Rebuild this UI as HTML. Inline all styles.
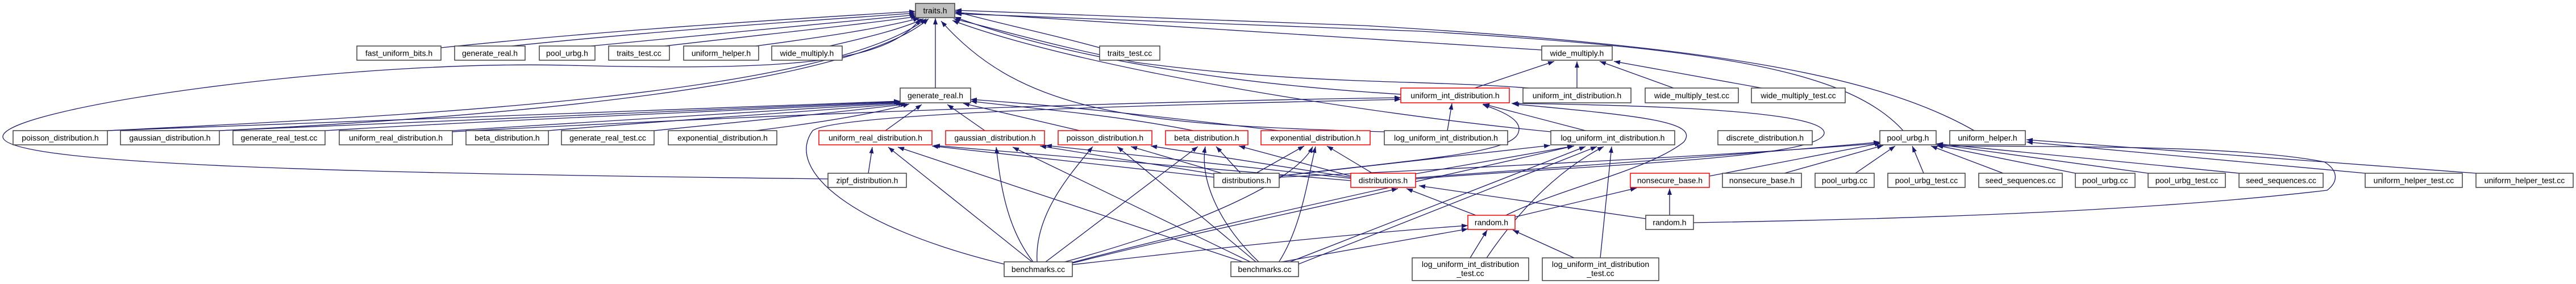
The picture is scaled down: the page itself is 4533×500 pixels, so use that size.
<!DOCTYPE html>
<html><head><meta charset="utf-8"><style>
html,body{margin:0;padding:0;background:#fff;}
svg{display:block;}
text{font-family:"Liberation Sans",sans-serif;font-size:14px;fill:#000;}
.e{fill:none;stroke:#191970;stroke-width:1.3;marker-end:url(#a);}
.n{fill:#fff;stroke:#404040;stroke-width:1.5;}
.r{fill:#fff;stroke:#ff0000;stroke-width:1.5;}
</style></head><body>
<svg width="4533" height="500" viewBox="0 0 4533 500" xmlns="http://www.w3.org/2000/svg">
<defs><marker id="a" markerUnits="userSpaceOnUse" markerWidth="11" markerHeight="8" refX="11" refY="4" orient="auto"><path d="M0,0 L11,4 L0,8 z" fill="#191970"/></marker></defs>
<g>
<!-- traits edges -->
<path class="e" d="M776,84 C1100,50 1450,30 1611,20"/>
<path class="e" d="M900,81 C1200,50 1450,35 1611,23"/>
<path class="e" d="M1040,81 C1300,55 1480,40 1612,26"/>
<path class="e" d="M1170,81 C1350,60 1500,45 1614,29"/>
<path class="e" d="M1330,81 C1450,65 1550,50 1618,32"/>
<path class="e" d="M1460,81 C1530,65 1590,50 1625,33"/>
<path class="e" d="M1457,315 C600,305 0,290 5,240 S600,105 1000,115 S1560,110 1620,33"/>
<path class="e" d="M189,230 C700,205 1450,170 1630,33"/>
<path class="e" d="M386,230 C900,205 1500,150 1634,33"/>
<path class="e" d="M1646,155 L1646,32"/>
<path class="e" d="M1935,84 C1850,60 1750,40 1681,20"/>
<path class="e" d="M2713,88 C2300,60 1900,35 1681,22"/>
<path class="e" d="M2465,166 C2200,150 1900,110 1680,30"/>
<path class="e" d="M2690,155 C2500,140 2300,150 2000,110 C1850,80 1750,50 1678,33"/>
<path class="e" d="M2729,232 C2400,200 1900,120 1676,36"/>
<path class="e" d="M3349,230 C3250,120 3000,85 2500,55 L1681,24"/>
<path class="e" d="M3474,230 C3300,130 3000,80 2400,45 L1681,18"/>
<path class="e" d="M2436,232 C2000,220 1800,200 1656,37"/>
<!-- generate_real edges -->
<path class="e" d="M189,230 C800,205 1300,190 1584,178"/>
<path class="e" d="M386,230 C900,205 1300,190 1584,179"/>
<path class="e" d="M572,230 C900,210 1300,195 1585,180"/>
<path class="e" d="M796,230 C1100,210 1400,195 1588,181"/>
<path class="e" d="M965,230 C1200,210 1450,195 1592,182"/>
<path class="e" d="M1151,230 C1350,210 1500,195 1596,183"/>
<path class="e" d="M1330,230 C1450,215 1540,200 1600,183"/>
<path class="e" d="M1558,230 L1622,184"/>
<path class="e" d="M1733,230 L1667,184"/>
<path class="e" d="M1900,230 L1695,182"/>
<path class="e" d="M2100,230 C1950,200 1800,190 1708,178"/>
<path class="e" d="M2250,230 C2000,200 1850,185 1708,175"/>
<path class="e" d="M796,232 C1300,205 1900,180 2465,172"/>
<!-- uniform_int red -->
<path class="e" d="M2547,230 L2555,182"/>
<path class="e" d="M2790,230 L2610,183"/>
<path class="e" d="M2491,315 C2800,290 3200,280 3210,235 C3215,195 2900,185 2660,182"/>
<path class="e" d="M2251,310 C2500,280 2662,270 2672,233 C2680,210 2640,195 2609,184"/>
<path class="e" d="M2650,379 C2750,330 2900,300 2963,250 C2990,215 2900,205 2662,183"/>
<path class="e" d="M1767,465 C1500,400 1380,300 1430,230 C1470,200 2000,185 2465,175"/>
<!-- wide_multiply -->
<path class="e" d="M2595,155 L2735,108"/>
<path class="e" d="M2775,155 L2775,108"/>
<path class="e" d="M2945,155 L2815,108"/>
<path class="e" d="M3100,155 L2840,108"/>
<!-- log_uniform 2 -->
<path class="e" d="M2251,310 L2728,256"/>
<path class="e" d="M2491,306 L2770,257"/>
<path class="e" d="M1887,462 C2200,380 2500,320 2769,257"/>
<path class="e" d="M2270,461 L2790,258"/>
<path class="e" d="M2285,465 L2810,258"/>
<path class="e" d="M2616,454 C2700,330 2780,280 2822,258"/>
<path class="e" d="M2816,454 L2836,258"/>
<!-- random red -->
<path class="e" d="M2250,462 L2583,403"/>
<path class="e" d="M1887,466 C2200,430 2400,410 2583,397"/>
<path class="e" d="M2587,454 L2617,405"/>
<path class="e" d="M2770,454 L2662,405"/>
<!-- distributions red / nonsecure red -->
<path class="e" d="M2597,379 L2475,332"/>
<path class="e" d="M2896,385 L2497,327"/>
<path class="e" d="M2666,382 L2880,331"/>
<path class="e" d="M2938,379 L2938,332"/>
<path class="e" d="M1888,463 C2100,410 2300,370 2460,332"/>
<!-- exponential red -->
<path class="e" d="M2210,305 L2295,257"/>
<path class="e" d="M1870,462 C2100,400 2280,320 2310,258"/>
<path class="e" d="M2250,462 C2290,400 2300,320 2315,258"/>
<path class="e" d="M2415,305 L2335,257"/>
<!-- beta red -->
<path class="e" d="M1840,461 L2108,258"/>
<path class="e" d="M2215,461 C2150,400 2110,320 2121,258"/>
<path class="e" d="M2183,305 L2140,258"/>
<path class="e" d="M2377,310 L2180,257"/>
<!-- poisson red -->
<path class="e" d="M1825,461 C1820,380 1880,310 1923,258"/>
<path class="e" d="M2210,461 L1966,258"/>
<path class="e" d="M2150,305 L1990,258"/>
<path class="e" d="M2377,312 L2025,257"/>
<!-- gaussian red -->
<path class="e" d="M1818,461 C1770,400 1760,320 1753,259"/>
<path class="e" d="M2200,461 L1782,259"/>
<path class="e" d="M2140,307 L1830,257"/>
<path class="e" d="M2377,314 L1840,256"/>
<!-- uniform_real red -->
<path class="e" d="M1528,305 L1535,259"/>
<path class="e" d="M1816,461 L1563,259"/>
<path class="e" d="M2190,462 L1580,259"/>
<path class="e" d="M2136,312 L1640,257"/>
<path class="e" d="M2377,318 L1643,256"/>
<!-- pool_urbg row3 -->
<path class="e" d="M2491,313 C2800,290 3100,270 3308,250"/>
<path class="e" d="M2251,312 C2700,290 3100,270 3310,252"/>
<path class="e" d="M3008,310 L3310,252"/>
<path class="e" d="M3140,305 L3314,256"/>
<path class="e" d="M3265,305 L3335,257"/>
<path class="e" d="M3385,305 L3365,257"/>
<path class="e" d="M3525,305 L3398,257"/>
<path class="e" d="M3652,305 L3408,256"/>
<path class="e" d="M3780,305 L3408,254"/>
<path class="e" d="M3940,305 L3408,253"/>
<path class="e" d="M2980,392 C3400,385 3800,370 4095,335 C4115,320 4115,300 4090,285 C3950,258 3700,258 3408,257"/>
<!-- uniform_helper row3 -->
<path class="e" d="M4162,305 L3566,250"/>
<path class="e" d="M4357,305 L3566,246"/>
</g>
<g>
<rect x="1611" y="6" width="69" height="25" fill="#bfbfbf" stroke="#404040" stroke-width="1.5"/>
<text x="1645.5" y="23.5" text-anchor="middle">traits.h</text>
</g>
<g>
<rect class="n" x="628" y="81" width="148" height="25"/><text x="702" y="98.5" text-anchor="middle">fast_uniform_bits.h</text>
<rect class="n" x="800" y="81" width="124" height="25"/><text x="862" y="98.5" text-anchor="middle">generate_real.h</text>
<rect class="n" x="949" y="81" width="98" height="25"/><text x="998" y="98.5" text-anchor="middle">pool_urbg.h</text>
<rect class="n" x="1071" y="81" width="107" height="25"/><text x="1124.5" y="98.5" text-anchor="middle">traits_test.cc</text>
<rect class="n" x="1203" y="81" width="132" height="25"/><text x="1269" y="98.5" text-anchor="middle">uniform_helper.h</text>
<rect class="n" x="1358" y="81" width="124" height="25"/><text x="1420" y="98.5" text-anchor="middle">wide_multiply.h</text>
<rect class="n" x="1935" y="81" width="106" height="25"/><text x="1988" y="98.5" text-anchor="middle">traits_test.cc</text>
<rect class="n" x="2713" y="81" width="124" height="25"/><text x="2775" y="98.5" text-anchor="middle">wide_multiply.h</text>

<rect class="n" x="1584" y="155" width="124" height="26"/><text x="1646" y="173" text-anchor="middle">generate_real.h</text>
<rect class="r" x="2465" y="155" width="191" height="26"/><text x="2560.5" y="173" text-anchor="middle">uniform_int_distribution.h</text>
<rect class="n" x="2680" y="155" width="190" height="26"/><text x="2775" y="173" text-anchor="middle">uniform_int_distribution.h</text>
<rect class="n" x="2895" y="155" width="164" height="26"/><text x="2977" y="173" text-anchor="middle">wide_multiply_test.cc</text>
<rect class="n" x="3082" y="155" width="165" height="26"/><text x="3164.5" y="173" text-anchor="middle">wide_multiply_test.cc</text>

<rect class="n" x="23" y="230" width="166" height="25"/><text x="106" y="247.5" text-anchor="middle">poisson_distribution.h</text>
<rect class="n" x="212" y="230" width="174" height="25"/><text x="299" y="247.5" text-anchor="middle">gaussian_distribution.h</text>
<rect class="n" x="410" y="230" width="162" height="25"/><text x="491" y="247.5" text-anchor="middle">generate_real_test.cc</text>
<rect class="n" x="597" y="230" width="199" height="25"/><text x="696.5" y="247.5" text-anchor="middle">uniform_real_distribution.h</text>
<rect class="n" x="820" y="230" width="145" height="25"/><text x="892.5" y="247.5" text-anchor="middle">beta_distribution.h</text>
<rect class="n" x="988" y="230" width="163" height="25"/><text x="1069.5" y="247.5" text-anchor="middle">generate_real_test.cc</text>
<rect class="n" x="1176" y="230" width="191" height="25"/><text x="1271.5" y="247.5" text-anchor="middle">exponential_distribution.h</text>
<rect class="r" x="1441" y="230" width="199" height="25"/><text x="1540.5" y="247.5" text-anchor="middle">uniform_real_distribution.h</text>
<rect class="r" x="1664" y="230" width="174" height="25"/><text x="1751" y="247.5" text-anchor="middle">gaussian_distribution.h</text>
<rect class="r" x="1862" y="230" width="165" height="25"/><text x="1944.5" y="247.5" text-anchor="middle">poisson_distribution.h</text>
<rect class="r" x="2051" y="230" width="145" height="25"/><text x="2123.5" y="247.5" text-anchor="middle">beta_distribution.h</text>
<rect class="r" x="2219" y="230" width="192" height="25"/><text x="2315" y="247.5" text-anchor="middle">exponential_distribution.h</text>
<rect class="n" x="2436" y="230" width="217" height="25"/><text x="2544.5" y="247.5" text-anchor="middle">log_uniform_int_distribution.h</text>
<rect class="n" x="2729" y="230" width="218" height="25"/><text x="2838" y="247.5" text-anchor="middle">log_uniform_int_distribution.h</text>
<rect class="n" x="3023" y="230" width="166" height="25"/><text x="3106" y="247.5" text-anchor="middle">discrete_distribution.h</text>
<rect class="n" x="3308" y="230" width="99" height="25"/><text x="3357.5" y="247.5" text-anchor="middle">pool_urbg.h</text>
<rect class="n" x="3431" y="230" width="133" height="25"/><text x="3497.5" y="247.5" text-anchor="middle">uniform_helper.h</text>

<rect class="n" x="1457" y="305" width="138" height="25"/><text x="1526" y="322.5" text-anchor="middle">zipf_distribution.h</text>
<rect class="n" x="2136" y="305" width="115" height="25"/><text x="2193.5" y="322.5" text-anchor="middle">distributions.h</text>
<rect class="r" x="2377" y="305" width="114" height="25"/><text x="2434" y="322.5" text-anchor="middle">distributions.h</text>
<rect class="r" x="2869" y="305" width="139" height="25"/><text x="2938.5" y="322.5" text-anchor="middle">nonsecure_base.h</text>
<rect class="n" x="3031" y="305" width="139" height="25"/><text x="3100.5" y="322.5" text-anchor="middle">nonsecure_base.h</text>
<rect class="n" x="3194" y="305" width="104" height="25"/><text x="3246" y="322.5" text-anchor="middle">pool_urbg.cc</text>
<rect class="n" x="3322" y="305" width="136" height="25"/><text x="3390" y="322.5" text-anchor="middle">pool_urbg_test.cc</text>
<rect class="n" x="3482" y="305" width="147" height="25"/><text x="3555.5" y="322.5" text-anchor="middle">seed_sequences.cc</text>
<rect class="n" x="3652" y="305" width="105" height="25"/><text x="3704.5" y="322.5" text-anchor="middle">pool_urbg.cc</text>
<rect class="n" x="3780" y="305" width="136" height="25"/><text x="3848" y="322.5" text-anchor="middle">pool_urbg_test.cc</text>
<rect class="n" x="3940" y="305" width="148" height="25"/><text x="4014" y="322.5" text-anchor="middle">seed_sequences.cc</text>
<rect class="n" x="4162" y="305" width="171" height="25"/><text x="4247.5" y="322.5" text-anchor="middle">uniform_helper_test.cc</text>
<rect class="n" x="4357" y="305" width="171" height="25"/><text x="4442.5" y="322.5" text-anchor="middle">uniform_helper_test.cc</text>

<rect class="r" x="2583" y="379" width="83" height="25"/><text x="2624.5" y="396.5" text-anchor="middle">random.h</text>
<rect class="n" x="2896" y="379" width="84" height="25"/><text x="2938" y="396.5" text-anchor="middle">random.h</text>

<rect class="n" x="1767" y="461" width="120" height="26"/><text x="1827" y="479" text-anchor="middle">benchmarks.cc</text>
<rect class="n" x="2166" y="461" width="119" height="26"/><text x="2225.5" y="479" text-anchor="middle">benchmarks.cc</text>
<rect class="n" x="2485" y="454" width="205" height="40"/><text x="2587.5" y="470" text-anchor="middle">log_uniform_int_distribution</text><text x="2587.5" y="486" text-anchor="middle">_test.cc</text>
<rect class="n" x="2714" y="454" width="205" height="40"/><text x="2816.5" y="470" text-anchor="middle">log_uniform_int_distribution</text><text x="2816.5" y="486" text-anchor="middle">_test.cc</text>
</g>
</svg>
</body></html>
